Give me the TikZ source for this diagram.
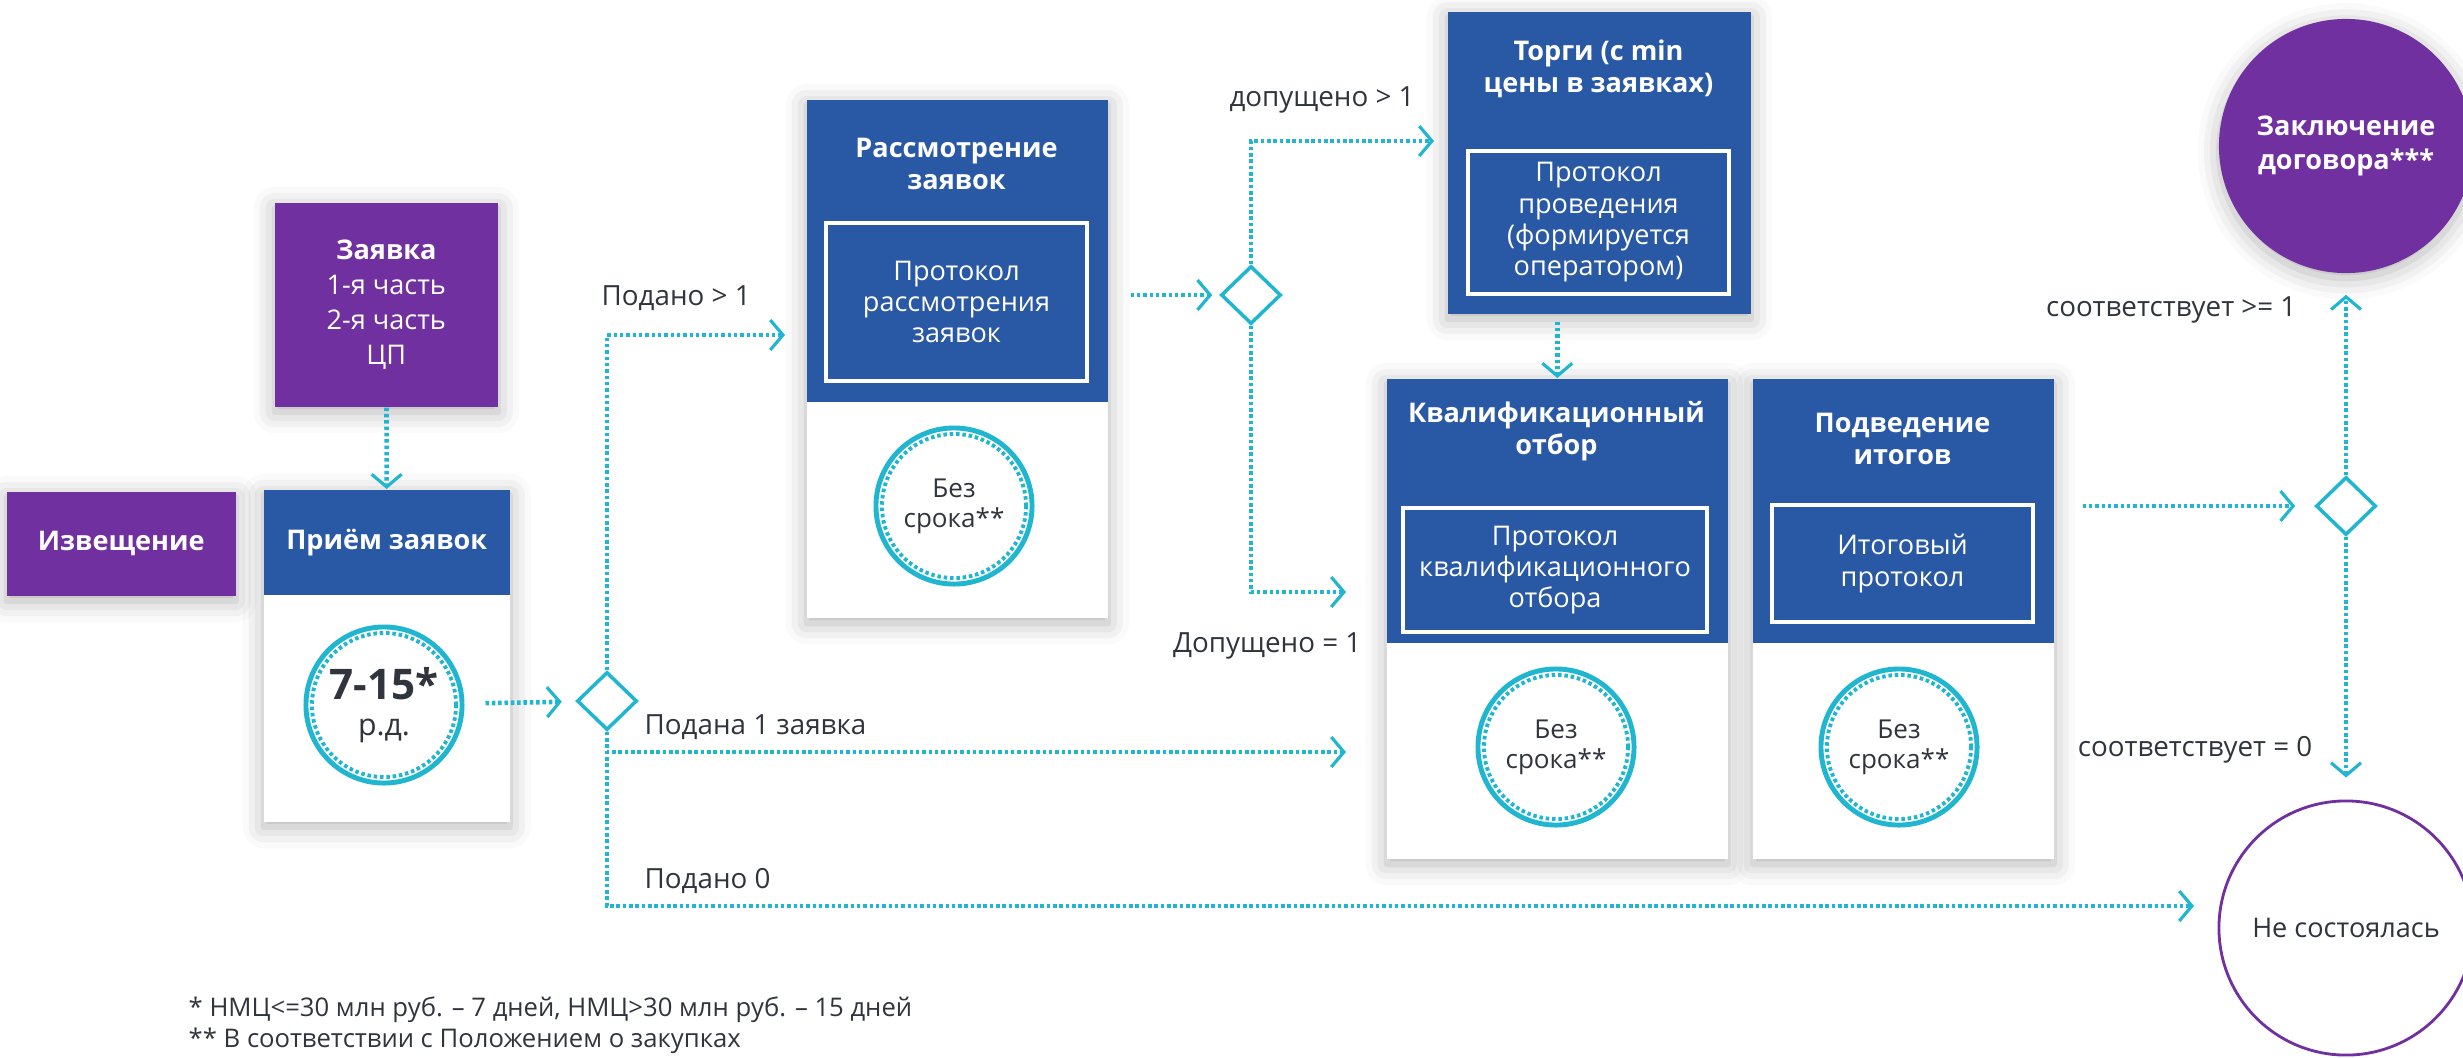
\documentclass[tikz,border=0pt]{standalone}
\usepackage{fontspec}
\setmainfont{Open Sans}
\usetikzlibrary{positioning, shapes.geometric, arrows.meta, shadows.blur}

\definecolor{lila}{RGB}{112,48,160}
\definecolor{blau}{RGB}{41,88,164}
\definecolor{tuerkis}{RGB}{32,182,208}
\definecolor{schrift}{RGB}{48,52,60}

\tikzset{schatten/.style={blur shadow={shadow xshift=0pt, shadow yshift=-1.5pt, shadow blur radius=6pt, shadow opacity=30}},
	karte/.style={rectangle, fill=white, anchor=north west, inner sep=0, schatten},
	kopf/.style={rectangle, fill=blau, anchor=north west, inner sep=0},
	feld/.style={rectangle, fill=lila, text=white, anchor=north west, inner sep=0, align=center, schatten},
	titel/.style={text=white, align=center, inner sep=0, font=\fontsize{7.7}{9.1}\selectfont\bfseries},
	protokoll/.style={rectangle, draw=white, line width=1pt, text=white, align=center, inner sep=0, font=\fontsize{7.7}{8.9}\selectfont},
	frist/.style={circle, draw=tuerkis, line width=1.4pt, minimum size=1.56cm, inner sep=0, align=center, text=schrift, font=\fontsize{7.4}{8.6}\selectfont},
	innenring/.style={circle, draw=tuerkis, line width=1.1pt, dash pattern=on 1pt off 0.8pt, minimum size=1.44cm, inner sep=0},
	raute/.style={diamond, draw=tuerkis, line width=1pt, minimum width=0.6cm, minimum height=0.58cm, inner sep=0},
	linie/.style={draw=tuerkis, line width=1.3pt, dash pattern=on 1pt off 0.8pt},
	pfeil/.style={linie, -{Straight Barb[length=3.6pt, width=8.5pt, line width=0.9pt]}},
	beschriftung/.style={text=schrift, inner sep=0, font=\fontsize{7.9}{9}\selectfont},
	fussnote/.style={beschriftung, anchor=west, font=\fontsize{7.3}{8}\selectfont},
	ende/.style={circle, minimum size=2.54cm, inner sep=0, align=center} }

\begin{document}
\begin{tikzpicture}[x=0.01cm, y=-0.01cm]
	\useasboundingbox (0,0) rectangle (2463,1057);

	% Start
	\node (izv) [feld, minimum width=2.29cm, minimum height=1.04cm, font=\fontsize{7.7}{9}\selectfont\bfseries] at (6,491) {Извещение};
	\node (zv) [feld, minimum width=2.23cm, minimum height=2.04cm, font=\fontsize{7.7}{10}\selectfont] at (274,202) {\textbf{Заявка}\\1-я часть\\2-я часть\\ЦП};

	\node (pk) [karte, minimum width=2.46cm, minimum height=3.32cm] at (263,489) {};
	\node (pkopf) [kopf, minimum width=2.46cm, minimum height=1.05cm] at (263,489) {};
	\node (pt) [titel] at (pkopf) {Приём заявок};
	\node (f1) [frist] at (384,705) {{\fontsize{12}{13}\selectfont\bfseries 7-15*}\\[1.5pt]{\fontsize{8.6}{9}\selectfont р.д.}};
	\node (f1i) [innenring] at (f1) {};

	% Rassmotrenie
	\node (rk) [karte, minimum width=3.01cm, minimum height=5.18cm] at (806,99) {};
	\node (rkopf) [kopf, minimum width=3.01cm, minimum height=3.02cm] at (806,99) {};
	\node (rt) [titel] at (956.5,164) {Рассмотрение\\заявок};
	\node (rp) [protokoll, minimum width=2.61cm, minimum height=1.58cm] at (956.5,302) {Протокол\\рассмотрения\\заявок};
	\node (f2) [frist] at (954,506) {Без\\срока**};
	\node (f2i) [innenring] at (f2) {};

	% Torgi
	\node (tk) [kopf, minimum width=3.03cm, minimum height=3.02cm, schatten] at (1447,11) {};
	\node (tt) [titel] at (1598.5,69) {Торги (с min\\цены в заявках)};
	\node (tp) [protokoll, minimum width=2.61cm, minimum height=1.43cm] at (1598.5,222.5) {Протокол\\проведения\\(формируется\\оператором)};

	% Kvalifikacija
	\node (kk) [karte, minimum width=3.41cm, minimum height=4.80cm] at (1386,378) {};
	\node (kkopf) [kopf, minimum width=3.41cm, minimum height=2.64cm] at (1386,378) {};
	\node (kt) [titel] at (1556.5,431) {Квалификационный\\отбор};
	\node (kp) [protokoll, minimum width=3.04cm, minimum height=1.24cm] at (1555,570) {Протокол\\квалификационного\\отбора};
	\node (f3) [frist] at (1556,747) {Без\\срока**};
	\node (f3i) [innenring] at (f3) {};

	% Itogi
	\node (ik) [karte, minimum width=3.01cm, minimum height=4.80cm] at (1752,378) {};
	\node (ikopf) [kopf, minimum width=3.01cm, minimum height=2.64cm] at (1752,378) {};
	\node (it) [titel] at (1902.5,439) {Подведение\\итогов};
	\node (ip) [protokoll, minimum width=2.61cm, minimum height=1.17cm] at (1902.5,563.5) {Итоговый\\протокол};
	\node (f4) [frist] at (1899,747) {Без\\срока**};
	\node (f4i) [innenring] at (f4) {};

	% Ende
	\node (zk) [ende, fill=lila, text=white, schatten, font=\fontsize{7.7}{9.6}\selectfont\bfseries] at (2346,146) {Заключение\\договора***};
	\node (ns) [ende, draw=lila, line width=0.8pt, fill=white, text=schrift, font=\fontsize{7.7}{9}\selectfont] at (2346,928) {Не состоялась};

	% Verzweigungen
	\node (r1) [raute] at (607,701) {};
	\node (r2) [raute] at (1251,295) {};
	\node (r3) [raute] at (2346,506) {};

	\coordinate (e1) at (785,335);
	\coordinate (e2) at (1434,141);
	\coordinate (e3) at (1346,592);
	\coordinate (e4) at (1346,752);
	\coordinate (e5) at (2194,906);

	\draw[pfeil] (zv) -- (pkopf);
	\draw[pfeil, shorten <=0.21cm, shorten >=0.14cm] (f1) -- (r1);
	\draw[pfeil] (r1.north) |- (e1);
	\draw[pfeil] (r1.south) |- (e4);
	\draw[pfeil] (r1.south) |- (e5);
	\draw[pfeil, shorten <=0.22cm, shorten >=0.07cm] (rk.east |- r2) -- (r2);
	\draw[pfeil] (r2.north) |- (e2);
	\draw[pfeil] (r2.south) |- (e3);
	\draw[pfeil, shorten <=2pt] (kkopf.north |- tk.south) -- (kkopf.north);
	\draw[pfeil, shorten <=0.28cm, shorten >=0.19cm] (ik.east |- r3) -- (r3);
	\draw[pfeil, shorten >=0.21cm] (r3) -- (zk);
	\draw[pfeil, shorten >=0.22cm] (r3) -- (ns);

	% Beschriftungen
	\node (l1) [beschriftung, anchor=west] at (601,298) {Подано > 1};
	\node (l2) [beschriftung] at (1322,100) {допущено > 1};
	\node (l3) [beschriftung, anchor=east] at (1362,646) {Допущено = 1};
	\node (l4) [beschriftung, anchor=west] at (644,727) {Подана 1 заявка};
	\node (l5) [beschriftung, anchor=west] at (644,881) {Подано 0};
	\node (l6) [beschriftung, anchor=east] at (2297,310) {соответствует >= 1};
	\node (l7) [beschriftung, anchor=east] at (2313,750) {соответствует = 0};

	\node (fn1) [fussnote] at (188,1010) {* НМЦ<=30 млн руб. – 7 дней, НМЦ>30 млн руб. – 15 дней};
	\node (fn2) [fussnote] at (188,1041) {** В соответствии с Положением о закупках};
\end{tikzpicture}
\end{document}
